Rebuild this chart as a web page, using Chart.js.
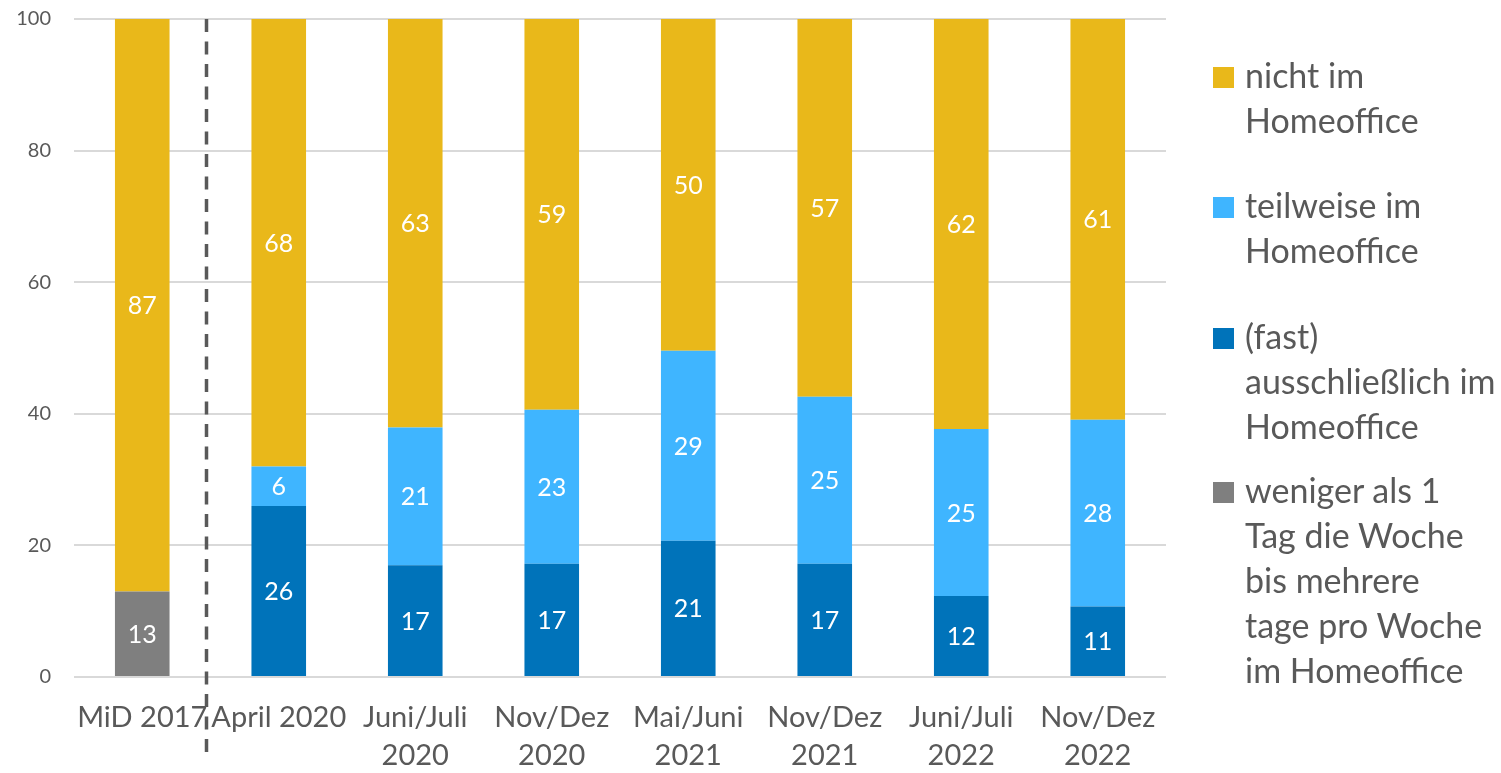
<!DOCTYPE html>
<html>
<head>
<meta charset="utf-8">
<style>
body { margin: 0; background: #fff; font-family: Lato, sans-serif; }
#wrap { position: relative; width: 1501px; height: 773px; }
#legend .item { position: absolute; left: 1213px; color: #595959; font-size: 34px; line-height: 45px; }
#legend .box { position: absolute; left: 0; width: 21px; height: 21px; }
#legend .txt { position: absolute; left: 32px; white-space: nowrap; }
</style>
</head>
<body>
<div id="wrap">
  <canvas id="myChart" width="1501" height="773"></canvas>
  <div id="legend"></div>
</div>
<script src="https://cdn.jsdelivr.net/npm/chart.js@4"></script>
<script>
// survey waves (x axis)
const waves = ['MiD 2017', 'April 2020', ['Juni/Juli', '2020'], ['Nov/Dez', '2020'], ['Mai/Juni', '2021'],
    ['Nov/Dez', '2021'], ['Juni/Juli', '2022'], ['Nov/Dez', '2022']]

// shares in percent, bottom to top of each stack
const wenigerAls1Tag = [13, null, null, null, null, null, null, null]
const fastAusschliesslich = [null, 26, 17.0, 17.2, 20.7, 17.2, 12.3, 10.7]
const teilweise = [null, 6, 20.9, 23.4, 28.9, 25.4, 25.4, 28.4]
const nichtImHomeoffice = [87, 68, 62.6, 59.4, 50.4, 57.4, 62.3, 60.9]

const yTicks = [0, 20, 40, 60, 80, 100]

// legend entries (top to bottom) with their line breaks
const legendNames = [
    ['nicht im', 'Homeoffice'],
    ['teilweise im', 'Homeoffice'],
    ['(fast)', 'ausschließlich im', 'Homeoffice'],
    ['weniger als 1', 'Tag die Woche', 'bis mehrere', 'tage pro Woche', 'im Homeoffice']
]
const legendTops = [52, 182, 313, 467]

const colors = {
    weniger: '#7f7f7f',
    fast: '#0073ba',
    teilweise: '#3fb5ff',
    nicht: '#e9b81a'
}
const legendColors = [colors.nicht, colors.teilweise, colors.fast, colors.weniger]

// white numbers in the middle of every segment
const segmentLabels = {
    id: 'segmentLabels',
    afterDatasetsDraw(chart) {
        let ctx = chart.ctx
        let area = chart.chartArea
        ctx.save()
        ctx.font = '25px Lato'
        ctx.fillStyle = '#fff'
        ctx.textAlign = 'center'
        ctx.textBaseline = 'middle'
        chart.data.datasets.forEach((ds, i) => {
            chart.getDatasetMeta(i).data.forEach((bar, j) => {
                let v = ds.data[j]
                if (v === null) return
                let top = Math.max(bar.y, area.top)
                ctx.fillText(Math.round(v), bar.x, (top + bar.base) / 2 + 1)
            })
        })
        ctx.restore()
    }
}

// dashed separator between MiD 2017 and the later waves
const separator = {
    id: 'separator',
    afterDraw(chart) {
        let x = chart.scales.x
        let px = (x.getPixelForValue(0) + x.getPixelForValue(1)) / 2 - 4
        let ctx = chart.ctx
        ctx.save()
        ctx.strokeStyle = '#595959'
        ctx.lineWidth = 3.5
        ctx.setLineDash([13, 9.5])
        ctx.beginPath()
        ctx.moveTo(px, chart.chartArea.top)
        ctx.lineTo(px, chart.height - 18)
        ctx.stroke()
        ctx.restore()
    }
}

let ctx = document.getElementById('myChart').getContext('2d')
let bar = (label, data, color) => ({
    label: label, data: data, backgroundColor: color, borderWidth: 0,
    barPercentage: 0.4, categoryPercentage: 1
})
let chart = new Chart(ctx, {
    type: 'bar',
    data: {
        labels: waves,
        datasets: [
            bar(legendNames[3].join(' '), wenigerAls1Tag, colors.weniger),
            bar(legendNames[2].join(' '), fastAusschliesslich, colors.fast),
            bar(legendNames[1].join(' '), teilweise, colors.teilweise),
            bar(legendNames[0].join(' '), nichtImHomeoffice, colors.nicht)
        ]
    },
    options: {
        responsive: false,
        animation: false,
        layout: { padding: { top: 19, right: 335, left: 0, bottom: 0 } },
        plugins: { legend: { display: false }, tooltip: { enabled: false } },
        scales: {
            x: {
                stacked: true,
                grid: { display: false, drawTicks: false },
                border: { display: false },
                ticks: {
                    color: '#595959', font: { family: 'Lato', size: 29, lineHeight: 1.31 },
                    padding: 22, maxRotation: 0, autoSkip: false
                },
                afterFit(scale) { scale.height = 96 }
            },
            y: {
                stacked: true,
                min: 0, max: 100,
                afterBuildTicks(scale) { scale.ticks = yTicks.map(v => ({ value: v })) },
                grid: { color: '#d9d9d9', lineWidth: 2, drawTicks: false },
                border: { display: false },
                ticks: { color: '#595959', font: { family: 'Lato', size: 20 }, padding: 23 },
                afterFit(scale) {
                    scale.width = 74
                    scale.paddingTop = 0
                    scale.paddingBottom = 0
                }
            }
        }
    },
    plugins: [segmentLabels, separator]
})

// legend on the right, built from the same names and colours
let legend = document.getElementById('legend')
legendNames.forEach((lines, i) => {
    let item = document.createElement('div')
    item.className = 'item'
    item.style.top = legendTops[i] + 'px'
    item.innerHTML = '<div class="box" style="top:15px;background:' + legendColors[i] + '"></div>' +
        '<div class="txt">' + lines.join('<br>') + '</div>'
    legend.appendChild(item)
})
</script>
</body>
</html>
